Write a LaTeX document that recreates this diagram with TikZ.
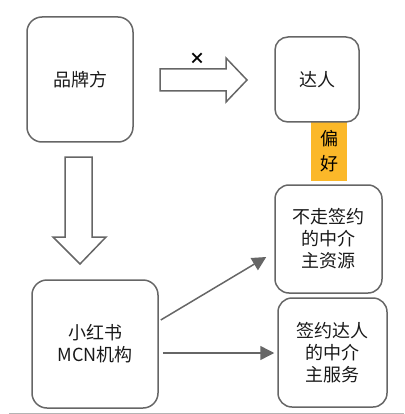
\documentclass[tikz,border=0pt]{standalone}
\usepackage{fontspec}
\setmainfont{Noto Sans CJK SC}
\usetikzlibrary{arrows.meta}
\definecolor{boxgray}{HTML}{666666}
\definecolor{prefyellow}{HTML}{FBB829}
\definecolor{rulegray}{HTML}{B4B4B4}
\tikzset{
  box/.style={draw=boxgray, line width=1.5pt, rounded corners=15pt, align=center,
    inner sep=0pt, font=\fontsize{18}{22}\selectfont, text=black!90},
  conn/.style={draw=boxgray, line width=1.5pt, -{Triangle[length=14pt,width=14pt]}},
  blockarrow/.style={draw=boxgray, line width=1.5pt, line join=miter}
}

\begin{document}
\begin{tikzpicture}[x=1pt,y=-1pt]
\useasboundingbox (0,0) rectangle (404,414);
\node[fill=prefyellow, minimum width=36pt, minimum height=59pt, inner sep=0pt, align=center,
  font=\fontsize{18}{25}\selectfont] (pref) at (329,151.5) {偏\\好};
\node[box, minimum width=106pt, minimum height=125pt] (brand) at (80,79.5) {品牌方};
\node[box, rounded corners=13pt, minimum width=84pt, minimum height=85pt] (talent) at (317,79.5) {达人};
\node[box, rounded corners=14pt, minimum width=107pt, minimum height=108pt] (res) at (328.5,239) {不走签约\\的中介\\主资源};
\node[box, rounded corners=14pt, minimum width=109pt, minimum height=109pt] (serv) at (332.5,352.5) {签约达人\\的中介\\主服务};
\node[box, minimum width=126pt, minimum height=128pt] (mcn) at (95,344) {小红书\\MCN机构};
% block arrows
\draw[blockarrow] (160,69) -- (226,69) -- (226,58) -- (247,80) -- (226,102) -- (226,91) -- (160,91) -- cycle;
\draw[blockarrow] (65,157) -- (92,157) -- (92,237) -- (106,237) -- (80,264) -- (53,237) -- (65,237) -- cycle;
\node[font=\fontsize{16}{16}\selectfont\bfseries] (nolink) at (197,59) {×};
\draw[conn] ([xshift=2pt,yshift=24pt]mcn.east) -- ([xshift=-8pt,yshift=-18pt]res.west);
\draw[conn] ([xshift=4pt,yshift=-9pt]mcn.east) -- ([xshift=-3pt,yshift=-9pt]mcn.east -| serv.west);
\draw[rulegray, line width=1pt] (9,413) -- (404,413);
\end{tikzpicture}
\end{document}
